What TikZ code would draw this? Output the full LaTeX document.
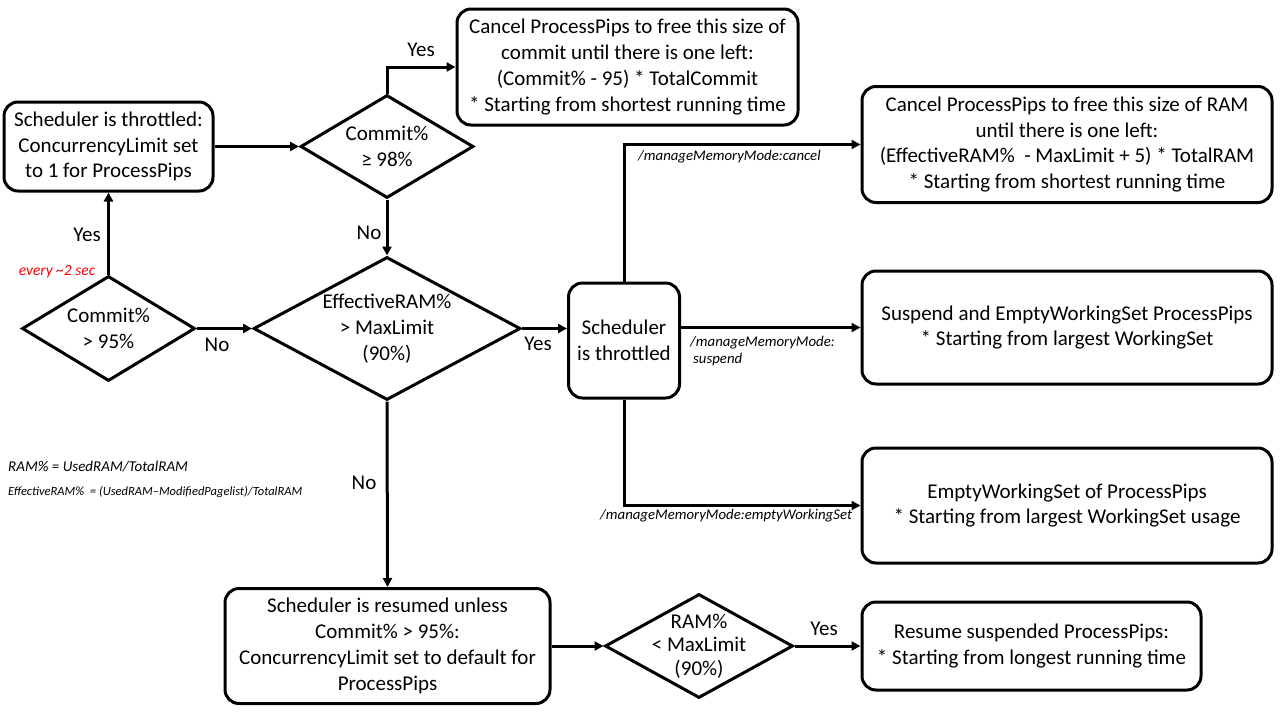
\documentclass[tikz,border=0pt]{standalone}
\usepackage{fontspec}
\setmainfont{Carlito}
\usetikzlibrary{shapes.geometric,arrows.meta}
\newcommand\mainfs{\fontsize{21}{25.8}\selectfont}
\newcommand\modefs{\fontsize{14.8}{17}\selectfont}
\begin{document}
\begin{tikzpicture}[x=1pt,y=-1pt,
  box/.style={draw,line width=3pt,rounded corners=14pt,align=center,inner sep=0pt,font=\mainfs},
  dia/.style={draw,diamond,line width=3pt,inner sep=0pt},
  conn/.style={line width=3pt,-{Triangle[length=9pt,width=9pt]}},
  lab/.style={font=\mainfs,inner sep=0pt},
  mode/.style={font=\modefs\itshape,inner sep=0pt,anchor=west},
  note/.style={inner sep=0pt,anchor=west},
  dlab/.style={font=\mainfs,align=center,inner sep=0pt},
]
\fill[white] (0,0) rectangle (1280,720);
\useasboundingbox (0,0) rectangle (1280,720);

% boxes
\node[box,minimum width=209,minimum height=89] (A) at (108.5,146.5) {Scheduler is throttled:\\ConcurrencyLimit set\\to 1 for ProcessPips};
\node[box,minimum width=341,minimum height=116] (B) at (627.5,67) {Cancel ProcessPips to free this size of\\commit until there is one left:\\(Commit\% - 95) * TotalCommit\\* Starting from shortest running time};
\node[box,minimum width=111,minimum height=115] (C) at (624,340.5) {Scheduler\\is throttled};
\node[box,minimum width=410,minimum height=116] (D) at (1067,144.5) {Cancel ProcessPips to free this size of RAM\\until there is one left:\\(EffectiveRAM\%\ \ - MaxLimit + 5) * TotalRAM\\* Starting from shortest running time};
\node[box,minimum width=410,minimum height=113] (E) at (1067,327.5) {Suspend and EmptyWorkingSet ProcessPips\\* Starting from largest WorkingSet};
\node[box,minimum width=410,minimum height=115] (F) at (1067,505.5) {EmptyWorkingSet of ProcessPips\\* Starting from largest WorkingSet usage};
\node[box,minimum width=325,minimum height=115] (G) at (387.5,646) {Scheduler is resumed unless\\Commit\% > 95\%:\\ConcurrencyLimit set to default for\\ProcessPips};
\node[box,minimum width=339,minimum height=88] (H) at (1031.5,646) {Resume suspended ProcessPips:\\* Starting from longest running time};

% diamonds
\node[dia,minimum width=173,minimum height=105,label={[dlab]center:{Commit\%\\> 95\%}}] (D0) at (108.5,328.5) {};
\node[dia,minimum width=173,minimum height=103,label={[dlab]center:{Commit\%\\≥ 98\%}}] (D1) at (387,146.5) {};
\node[dia,minimum width=267,minimum height=143,label={[dlab]center:{EffectiveRAM\%\\> MaxLimit\\(90\%)}}] (D2) at (387,328.5) {};
\node[dia,minimum width=188,minimum height=104,label={[dlab,font=\fontsize{21}{23.5}\selectfont]center:{RAM\%\\< MaxLimit\\(90\%)}}] (D3) at (699,646) {};

% connectors
\draw[conn] (A.east) -- (D1.west);
\draw[conn] (D1.north) |- (B.west);
\draw[conn] (D0.north) -- (A.south);
\draw[conn] (D0.east) -- (D2.west);
\draw[conn] (D1.south) -- (D2.north);
\draw[conn] (D2.east) -- (D2.east -| C.west);
\draw[conn] (C.north) |- (D.west);
\draw[conn] (C.east |- E.west) -- (E.west);
\draw[conn] (C.south) |- (F.west);
\draw[conn] (D2.south) -- (G.north);
\draw[conn] (G.east) -- (D3.west);
\draw[conn] (D3.east) -- (H.west);

% labels
\node[lab] (y1) at (421,50) {Yes};
\node[lab] (n1) at (369,233) {No};
\node[lab] (y0) at (87,235) {Yes};
\node[inner sep=0pt,font=\fontsize{15.5}{18}\selectfont\itshape,text=red] (ev) at (57,272) {every \textasciitilde2 sec};
\node[lab] (n0) at (217,345) {No};
\node[lab] (y2) at (538,344) {Yes};
\node[lab] (n2) at (364,483) {No};
\node[lab] (y3) at (824,629) {Yes};

\node[mode] (m1) at (638,157) {/manageMemoryMode:cancel};
\node[mode,align=left] (m2) at (690,351) {/manageMemoryMode:\\\hspace{3pt}suspend};
\node[mode] (m3) at (600,516) {/manageMemoryMode:emptyWorkingSet};

\node[note,font=\fontsize{15}{18}\selectfont\itshape] (r1) at (8,467) {RAM\% = UsedRAM/TotalRAM};
\node[note,font=\fontsize{12.5}{15}\selectfont\itshape] (r2) at (8,492) {EffectiveRAM\%\ \ = (UsedRAM–ModifiedPagelist)/TotalRAM};
\end{tikzpicture}
\end{document}
